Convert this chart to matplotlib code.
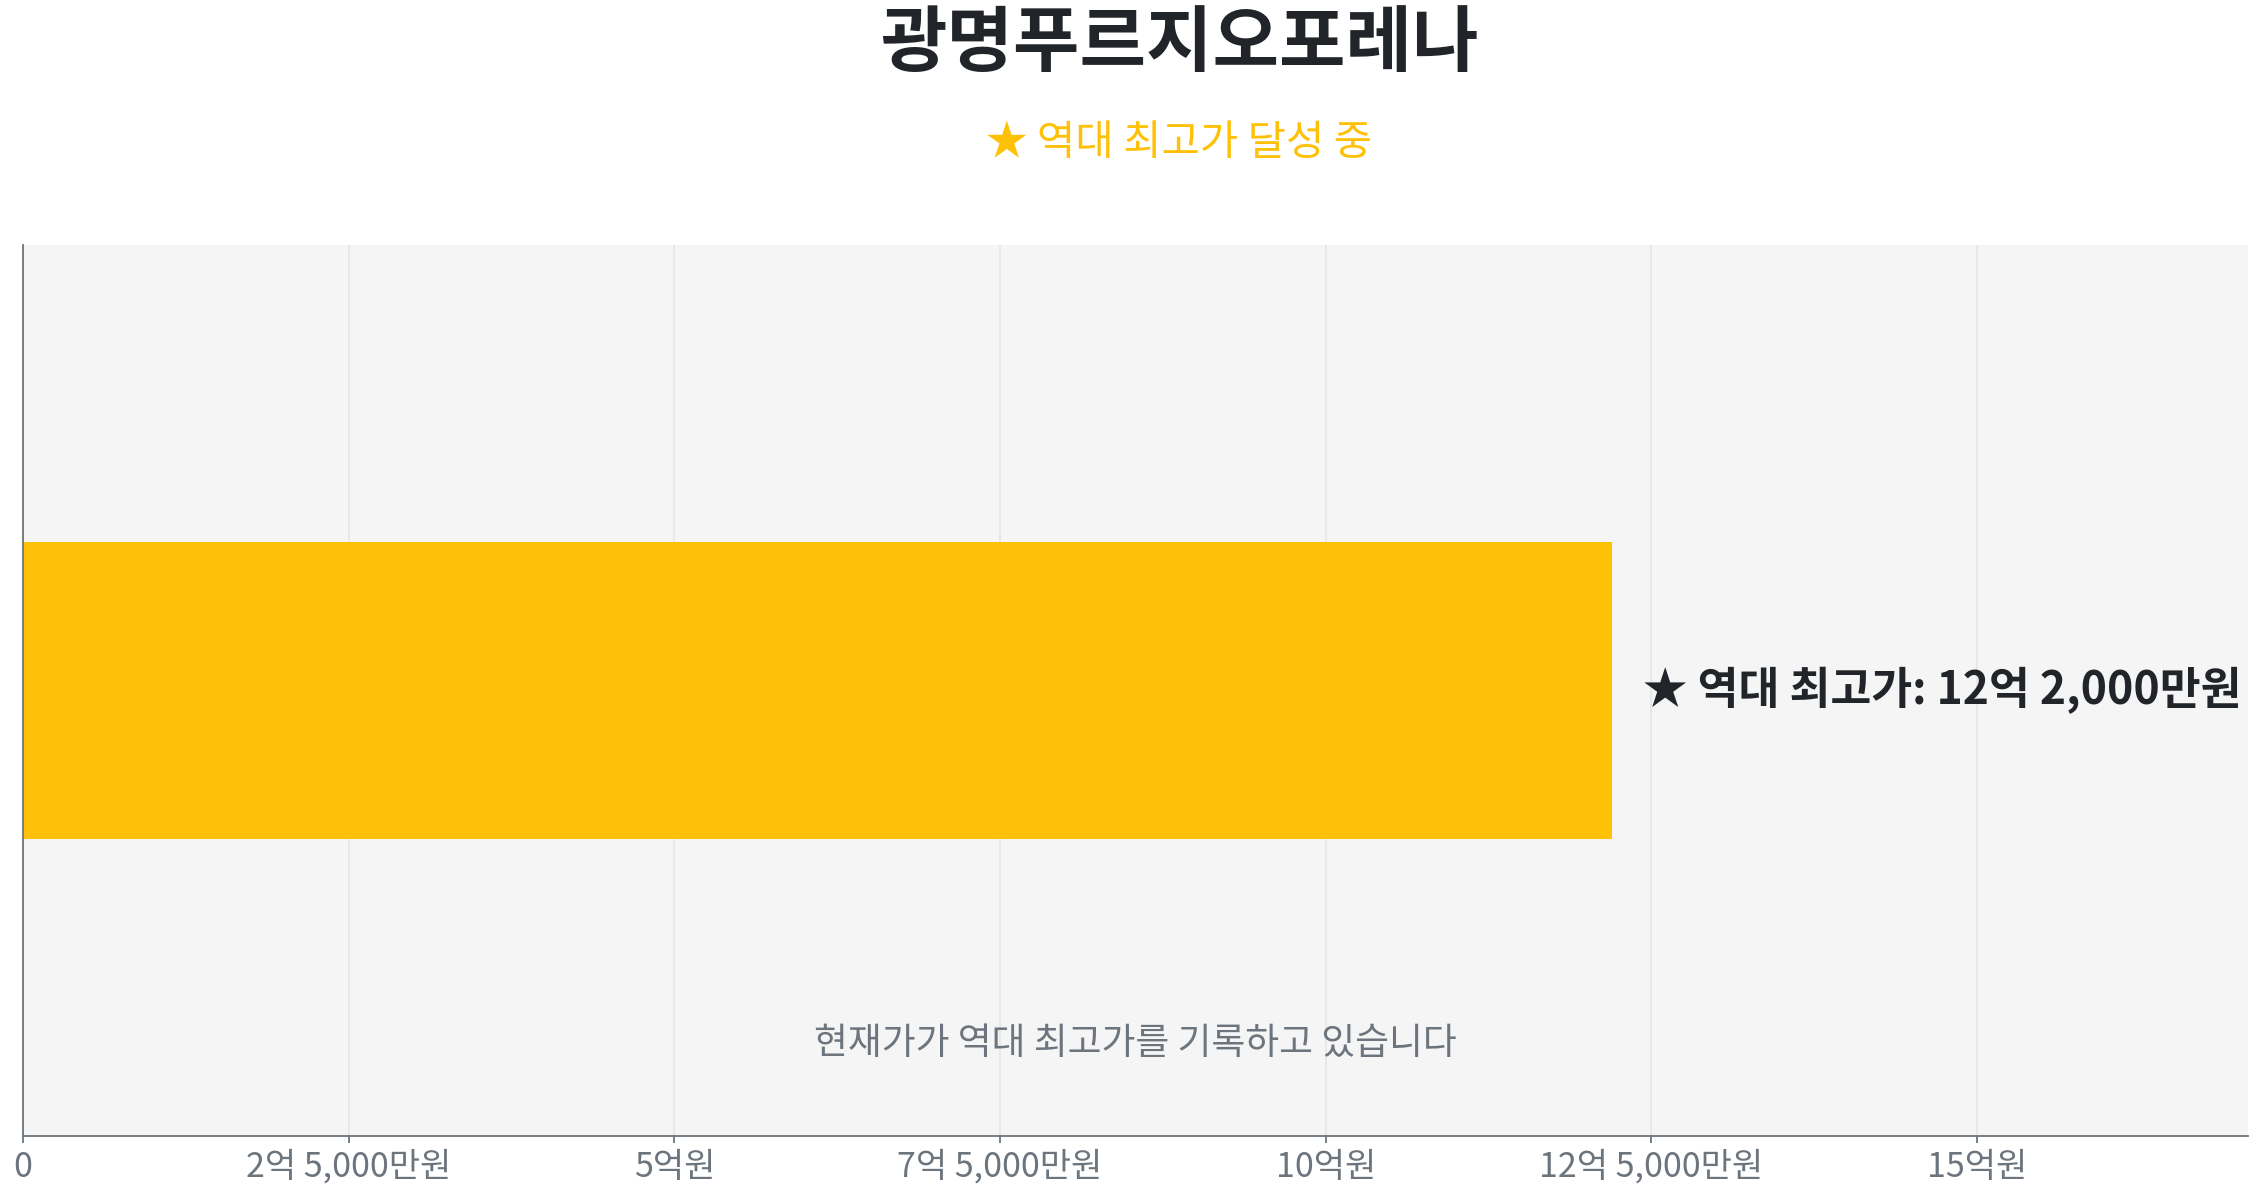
import matplotlib
matplotlib.use("Agg")
import matplotlib.pyplot as plt
from matplotlib.ticker import FuncFormatter, MultipleLocator

plt.rcParams['font.family'] = ['Noto Sans CJK KR', 'DejaVu Sans']

# data
apt_name = "광명푸르지오포레나"
subtitle = "★ 역대 최고가 달성 중"
note = "현재가가 역대 최고가를 기록하고 있습니다"
categories = ["역대 최고가"]
prices = [1220000000]  # 원
tick_step = 250000000


def won_label(v, pos=None):
    # 원 단위를 "억 / 만원" 표기로
    v = int(round(v))
    if v == 0:
        return "0"
    eok = v // 100000000
    man = (v % 100000000) // 10000
    if man == 0:
        return f"{eok}억원"
    if eok == 0:
        return f"{man:,}만원"
    return f"{eok}억 {man:,}만원"


fig = plt.figure(figsize=(22.63, 12), dpi=100)
ax = fig.add_axes([0.0102, 0.0533, 0.9832, 0.7425])
ax.set_facecolor("#f5f5f5")

ax.barh([0], prices, height=1.0, color="#FFC107", zorder=2)
ax.set_ylim(-1.5, 1.5)
ax.set_xlim(0, max(prices) * 1.4)

ax.xaxis.set_major_locator(MultipleLocator(tick_step))
ax.xaxis.set_major_formatter(FuncFormatter(won_label))
ax.set_yticks([])
ax.grid(axis="x", color="#e6e6e6", linewidth=1.2, zorder=0)
ax.set_axisbelow(True)

for s in ["top", "right"]:
    ax.spines[s].set_visible(False)
for s in ["left", "bottom"]:
    ax.spines[s].set_color("#6c757d")
    ax.spines[s].set_linewidth(1.3)

ax.tick_params(axis="x", colors="#6c757d", labelsize=24.5, length=5, width=1.3, pad=5)

# 최고가 라벨
ax.annotate(f"★ 역대 최고가: {won_label(prices[0])}", xy=(prices[0], 0),
            xytext=(22, 0), textcoords="offset points", va="center", ha="left",
            fontsize=32, fontweight="bold", color="#212529")

ax.text(0.5, 0.104, note, transform=ax.transAxes, ha="center", va="center",
        fontsize=26.5, color="#6c757d")

fig.text(0.521, 0.963, apt_name, ha="center", va="center", fontsize=52,
         fontweight="bold", color="#212529")
fig.text(0.521, 0.880, subtitle, ha="center", va="center", fontsize=30,
         color="#FFC107")

fig.savefig("out.png", dpi=100)
